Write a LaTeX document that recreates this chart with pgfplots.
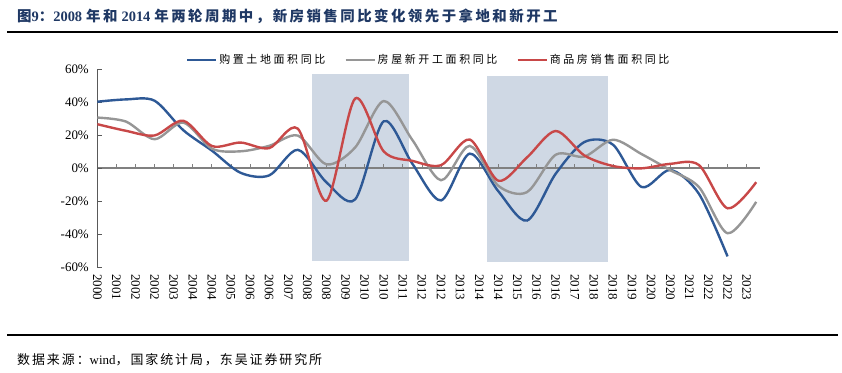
\documentclass[border=0pt]{standalone}
\usepackage{pgfplots}
\pgfplotsset{compat=1.18}
\usepackage{fontspec}
\setmainfont{Liberation Serif}
\newfontfamily\cjk{Noto Sans CJK SC}
\newfontfamily\cjkt{Noto Sans CJK SC}[LetterSpace=17]
\newfontfamily\cjkf{Noto Sans CJK SC}[LetterSpace=15]
\newfontfamily\cjkl{Noto Sans CJK SC}[LetterSpace=24]
\definecolor{cblue}{RGB}{46,89,150}
\definecolor{cgray}{RGB}{150,150,150}
\definecolor{cred}{RGB}{200,72,72}
\definecolor{cshade}{RGB}{207,216,228}
\definecolor{ctitle}{RGB}{31,56,100}
\definecolor{caxis}{RGB}{128,128,128}

\begin{document}
\begin{tikzpicture}[x=1bp,y=1bp]
\useasboundingbox (0,0) rectangle (842,372);
\node[anchor=base west, inner sep=0, text=ctitle, font=\bfseries\fontsize{14.5}{17}\selectfont] at (17,351)
 {{\cjkt 图}9{\cjkt ：}2008\hspace{4bp}{\cjkt 年和}\hspace{4bp}2014\hspace{4bp}{\cjkt 年两轮周期中，新房销售同比变化领先于拿地和新开工}};
\draw[line width=2bp] (7,340.3) -- (838,340.3);
\draw[line width=2bp] (7,37) -- (838,37);
\node[anchor=base west, inner sep=0, font=\fontsize{13}{15}\selectfont] at (17,8)
 {{\cjkf 数据来源：}wind{\cjkf ，国家统计局，东吴证券研究所}};

% background: shaded periods and zero line
\begin{axis}[at={(97.3bp,104.7bp)}, anchor=south west, scale only axis,
  width=662.7bp, height=198.3bp, xmin=0, xmax=34.7, ymin=-60, ymax=60,
  axis x line=middle, axis y line=none, axis on top,
  xtick={0,...,34}, xticklabels={}, ytick=\empty,
  x axis line style={draw=caxis, line width=1.8bp, -},
  xtick style={draw=caxis, line width=0.9bp},
  tick align=inside, major tick length=4.5bp]
\addplot[fill=cshade, draw=none] coordinates {(11.25,-56) (16.31,-56) (16.31,57) (11.25,57)} -- cycle;
\addplot[fill=cshade, draw=none] coordinates {(20.39,-57) (26.72,-57) (26.72,56) (20.39,56)} -- cycle;
\end{axis}

\begin{axis}[at={(97.3bp,104.7bp)}, anchor=south west, scale only axis,
  width=662.7bp, height=198.3bp, xmin=0, xmax=34.7, ymin=-60, ymax=60,
  axis y line*=left, axis x line*=bottom,
  x axis line style={draw=none}, xtick style={draw=none},
  xtick={0,...,34},
  xticklabels={2000,2001,2002,2002,2003,2004,2004,2005,2006,2006,2007,2008,2008,2009,2010,2010,2011,2012,2012,2013,2014,2014,2015,2016,2016,2017,2018,2018,2019,2020,2020,2021,2022,2022,2023},
  xticklabel style={rotate=-90, anchor=west, font=\fontsize{13}{15}\selectfont},
  xticklabel shift=3.5bp,
  ytick={-60,-40,-20,0,20,40,60},
  yticklabels={-60\%,-40\%,-20\%,0\%,20\%,40\%,60\%},
  yticklabel style={font=\fontsize{13}{15}\selectfont, xshift=-5bp},
  y axis line style={draw=black!65, line width=0.8bp, -},
  ytick style={draw=black!65, line width=0.8bp},
  tick align=inside, major tick length=4.5bp,
  legend columns=3,
  legend style={at={(0.5,1.045)}, anchor=center, draw=none, fill=none,
    font=\cjkl\fontsize{11}{13}\selectfont,
    /tikz/every even column/.append style={column sep=17bp}},
  legend image code/.code={\draw[#1, line width=2.4bp] (0bp,0bp) -- (29bp,0bp);},
  every axis plot/.append style={line width=2.4bp, smooth}]
% 购置土地面积同比, x = 1.5*(year-2000)
\addplot[cblue] coordinates {
(0,40.2) (1.5,41.6) (3,40.8) (4.5,23.0) (6,10.6) (7.5,-2.8) (9,-4.4) (10.5,11.1)
(12,-8.6) (13.5,-18.9) (15,28.4) (16.5,2.6) (18,-19.5) (19.5,8.8) (21,-14.0)
(22.5,-31.7) (24,-3.4) (25.5,15.8) (27,14.2) (28.5,-11.4) (30,-1.1) (31.5,-15.5) (33,-53.4)};
\addlegendentry{购置土地面积同比}
% 房屋新开工面积同比
\addplot[cgray] coordinates {
(0,30.6) (1.5,28.2) (3,17.5) (4.5,27.6) (6,11.8) (7.5,10.2) (9,13.5) (10.5,19.7)
(12,2.3) (13.5,12.5) (15,40.6) (16.5,17.0) (18,-7.3) (19.5,13.5) (21,-10.7)
(22.5,-14.5) (24,8.1) (25.5,7.0) (27,17.2) (28.5,8.5) (30,-1.2) (31.5,-11.4) (33,-39.4) (34.5,-20.4)};
\addlegendentry{房屋新开工面积同比}
% 商品房销售面积同比
\addplot[cred] coordinates {
(0,26.6) (1.5,22.6) (3,19.8) (4.5,28.7) (6,13.4) (7.5,15.5) (9,12.1) (10.5,23.9)
(12,-19.7) (13.5,42.1) (15,10.1) (16.5,4.4) (18,1.8) (19.5,17.3) (21,-7.6)
(22.5,6.5) (24,22.5) (25.5,7.7) (27,1.3) (28.5,-0.1) (30,2.6) (31.5,1.9) (33,-24.3) (34.5,-8.5)};
\addlegendentry{商品房销售面积同比}
\end{axis}
\end{tikzpicture}
\end{document}
